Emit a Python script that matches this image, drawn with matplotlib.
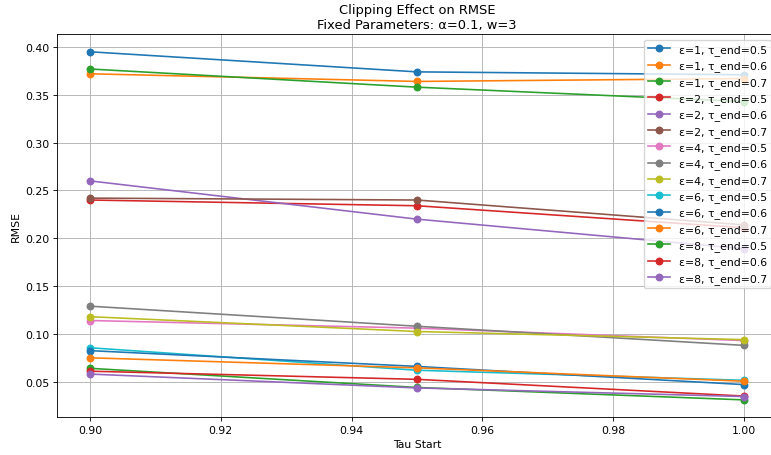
import matplotlib
matplotlib.use("Agg")
import matplotlib.pyplot as plt

tau_start = [0.90, 0.95, 1.00]

labels = [
    "ε=1, τ_end=0.5", "ε=1, τ_end=0.6", "ε=1, τ_end=0.7",
    "ε=2, τ_end=0.5", "ε=2, τ_end=0.6", "ε=2, τ_end=0.7",
    "ε=4, τ_end=0.5", "ε=4, τ_end=0.6", "ε=4, τ_end=0.7",
    "ε=6, τ_end=0.5", "ε=6, τ_end=0.6", "ε=6, τ_end=0.7",
    "ε=8, τ_end=0.5", "ε=8, τ_end=0.6", "ε=8, τ_end=0.7",
]

eps1_t05 = [0.395, 0.374, 0.371]
eps1_t06 = [0.372, 0.364, 0.367]
eps1_t07 = [0.377, 0.358, 0.343]
eps2_t05 = [0.240, 0.234, 0.211]
eps2_t06 = [0.260, 0.220, 0.189]
eps2_t07 = [0.242, 0.240, 0.214]
eps4_t05 = [0.114, 0.106, 0.093]
eps4_t06 = [0.129, 0.108, 0.088]
eps4_t07 = [0.118, 0.1025, 0.094]
eps6_t05 = [0.0855, 0.062, 0.0515]
eps6_t06 = [0.0825, 0.066, 0.047]
eps6_t07 = [0.075, 0.0645, 0.0505]
eps8_t05 = [0.064, 0.044, 0.031]
eps8_t06 = [0.061, 0.0525, 0.035]
eps8_t07 = [0.058, 0.0435, 0.0345]

series = [eps1_t05, eps1_t06, eps1_t07,
          eps2_t05, eps2_t06, eps2_t07,
          eps4_t05, eps4_t06, eps4_t07,
          eps6_t05, eps6_t06, eps6_t07,
          eps8_t05, eps8_t06, eps8_t07]

s = 0.78
plt.rcParams.update({
    "lines.linewidth": 1.5 * s,
    "lines.markersize": 6 * s,
    "grid.linewidth": 0.8 * s,
    "axes.linewidth": 0.8 * s,
    "xtick.major.size": 3.5 * s,
    "ytick.major.size": 3.5 * s,
    "xtick.major.width": 0.8 * s,
    "ytick.major.width": 0.8 * s,
    "xtick.major.pad": 3.5 * s,
    "ytick.major.pad": 3.5 * s,
    "axes.labelpad": 4 * s,
    "axes.titlepad": 6 * s,
})

fig = plt.figure(figsize=(7.71, 4.56), dpi=100)
ax = fig.add_axes([0.0743, 0.0827, 0.933, 0.8397])
for lab, vals in zip(labels, series):
    ax.plot(tau_start, vals, marker="o", label=lab)

ax.set_title("Clipping Effect on RMSE\nFixed Parameters: α=0.1, w=3", fontsize=12 * s)
ax.set_xlabel("Tau Start", fontsize=10 * s)
ax.set_ylabel("RMSE", fontsize=10 * s)
ax.tick_params(labelsize=10 * s)
ax.grid(True)
ax.legend(loc="upper right", fontsize=10 * s)
fig.subplots_adjust(left=0.0743, right=1.0074, top=0.9224, bottom=0.0827)
fig.savefig("out.png", dpi=100)
